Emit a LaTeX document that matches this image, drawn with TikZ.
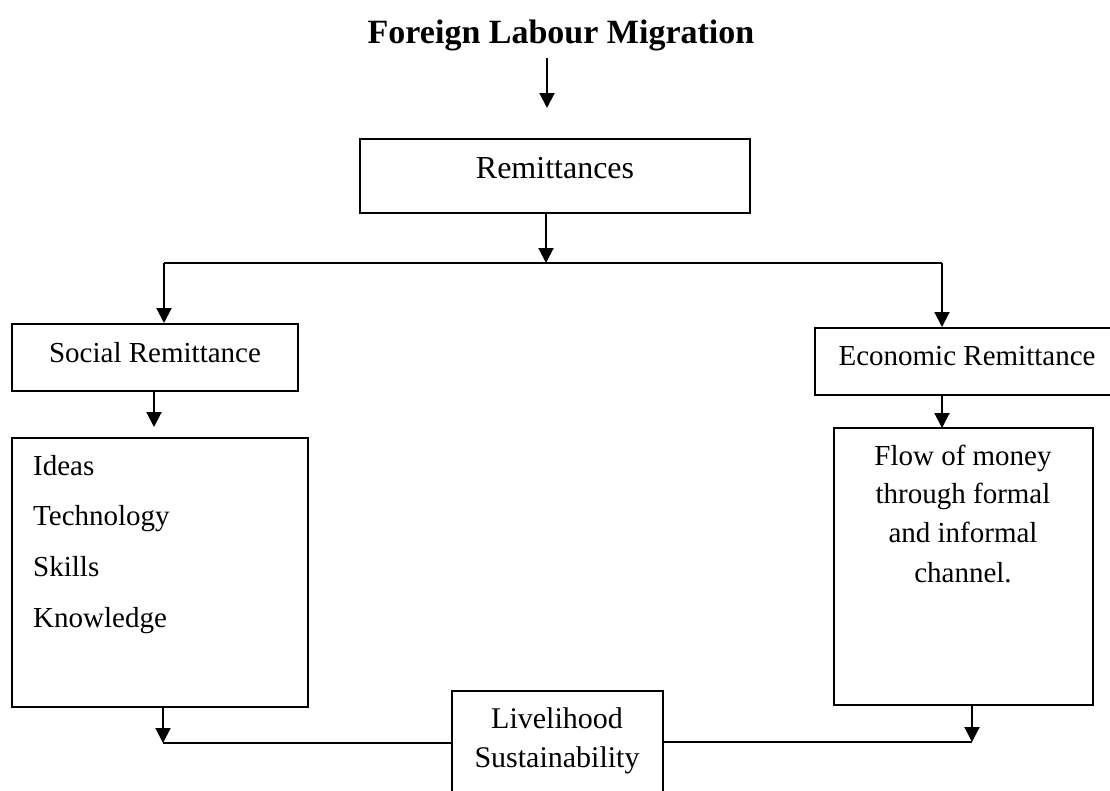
\documentclass[tikz,border=0pt]{standalone}
\usepackage{fontspec}
\setmainfont{Liberation Serif}
\usetikzlibrary{arrows.meta}
\begin{document}
\begin{tikzpicture}[x=1pt,y=-1pt,
  box/.style={draw=black, line width=2pt, inner sep=0pt, fill=none},
  txt/.style={inner sep=0pt, anchor=base, font=\fontsize{29}{39}\selectfont},
  conn/.style={line width=2pt},
  arr/.style={line width=2pt, -{Triangle[length=15pt,width=15pt]}}]
\useasboundingbox (0,0) rectangle (1110,790);
\clip (0,0) rectangle (1110,790);
% title
\node[inner sep=0pt, anchor=base, font=\bfseries\fontsize{34}{40}\selectfont] (title) at (561,43) {Foreign Labour Migration};
% boxes
\node[box, minimum width=390, minimum height=74] (remit) at (555,176) {};
\node[txt, font=\fontsize{32}{39}\selectfont] (remitT) at (555,178) {Remittances};
\node[box, minimum width=286, minimum height=67] (social) at (155,357.5) {};
\node[txt] (socialT) at (155,362) {Social Remittance};
\node[box, minimum width=299, minimum height=67] (econ) at (964.5,361.5) {};
\node[txt] (econT) at (967,365) {Economic Remittance};
\node[box, minimum width=296, minimum height=269] (ideas) at (160,572.5) {};
\node[txt, anchor=base west] (i1) at (33,475) {Ideas};
\node[txt, anchor=base west] (i2) at (33,525) {Technology};
\node[txt, anchor=base west] (i3) at (33,576) {Skills};
\node[txt, anchor=base west] (i4) at (33,627) {Knowledge};
\node[box, minimum width=259, minimum height=277] (flow) at (963.5,566.5) {};
\node[txt] (f1) at (963,465) {Flow of money};
\node[txt] (f2) at (963,503) {through formal};
\node[txt] (f3) at (963,542) {and informal};
\node[txt] (f4) at (963,582) {channel.};
\node[box, minimum width=211, minimum height=140] (live) at (557.5,761) {};
\node[txt, font=\fontsize{30}{39}\selectfont] (l1) at (557,728) {Livelihood};
\node[txt, font=\fontsize{30}{39}\selectfont] (l2) at (557,767) {Sustainability};
% connectors
\coordinate (t1) at (547,58);
\coordinate (t2) at (547,108);
\draw[arr] (t1) -- (t2);
\coordinate (r0) at (546,213);
\coordinate (bl) at (164,263);
\coordinate (br) at (942,263);
\draw[conn] (bl) -- (br);
\draw[arr] (r0) -- (r0 |- bl);
\draw[arr] (bl) -- (bl |- social.north);
\draw[arr] (br) -- (br |- econ.north);
\coordinate (s0) at (154,427);
\draw[arr] (s0 |- social.south) -- (s0);
\coordinate (e0) at (942,428);
\draw[arr] (e0 |- econ.south) -- (e0);
\coordinate (lb) at (163,743);
\draw[arr] (lb |- ideas.south) -- (lb);
\draw[conn] (lb) -- (lb -| live.west);
\coordinate (rb) at (972,742);
\draw[arr] (rb |- flow.south) -- (rb);
\draw[conn] (rb -| live.east) -- (rb);
\end{tikzpicture}
\end{document}
